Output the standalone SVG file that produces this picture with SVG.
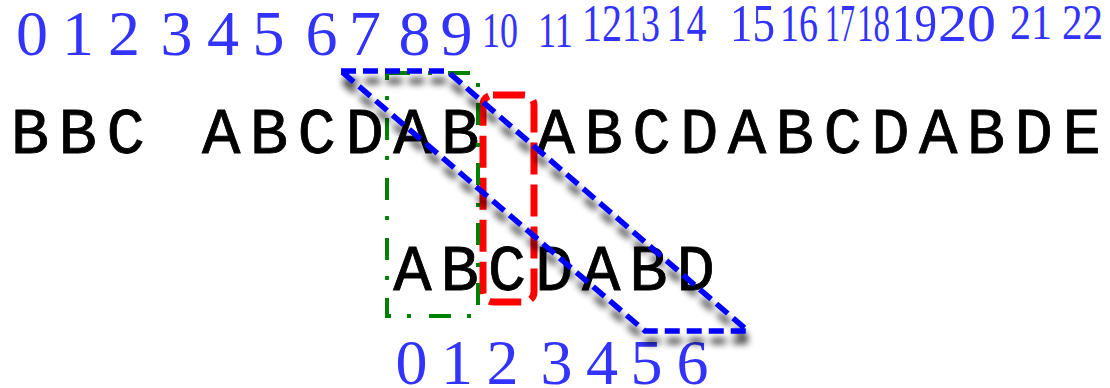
<svg xmlns="http://www.w3.org/2000/svg" width="1110" height="388" viewBox="0 0 1110 388">
<style>
.num{font-family:"Liberation Serif","Times New Roman",serif;fill:#3333ff;text-anchor:middle}
.str{font-family:"Liberation Mono","Courier New",monospace;fill:#000;stroke:#000;stroke-width:0.8;text-anchor:middle;font-size:64px}
.blue{fill:none;stroke:#0000ff;stroke-width:5.5;stroke-dasharray:15 7}
.green{fill:none;stroke:#008000;stroke-width:4;stroke-dasharray:22 16 4 18}
.red{fill:none;stroke:#ff0000;stroke-width:7;stroke-dasharray:32 10}
</style>
<defs>
<filter id="shadow" x="-20%" y="-20%" width="140%" height="140%">
<feGaussianBlur in="SourceAlpha" stdDeviation="3.5"/>
<feOffset dx="2" dy="10" result="b"/>
<feComponentTransfer><feFuncA type="linear" slope="0.8"/></feComponentTransfer>
<feMerge><feMergeNode/><feMergeNode in="SourceGraphic"/></feMerge>
</filter>
</defs>
<rect width="1110" height="388" fill="#fff"/>
<g id="top-indices">
<text class="num" font-size="64" x="32 78 124 176.5 223 268.5 321.5 365 414.5 456.5" y="55">0123456789</text>
<text class="num" font-size="50" x="500" y="47" textLength="36" lengthAdjust="spacingAndGlyphs">10</text>
<text class="num" font-size="50" x="555.5" y="47" textLength="35" lengthAdjust="spacingAndGlyphs">11</text>
<text class="num" font-size="52" x="602" y="41" textLength="40" lengthAdjust="spacingAndGlyphs">12</text>
<text class="num" font-size="52" x="641" y="41" textLength="38" lengthAdjust="spacingAndGlyphs">13</text>
<text class="num" font-size="52" x="686.5" y="41" textLength="40" lengthAdjust="spacingAndGlyphs">14</text>
<text class="num" font-size="52" x="752.5" y="41" textLength="45" lengthAdjust="spacingAndGlyphs">15</text>
<text class="num" font-size="52" x="799" y="41" textLength="38" lengthAdjust="spacingAndGlyphs">16</text>
<text class="num" font-size="52" x="840" y="41" textLength="30" lengthAdjust="spacingAndGlyphs">17</text>
<text class="num" font-size="52" x="873.5" y="41" textLength="33" lengthAdjust="spacingAndGlyphs">18</text>
<text class="num" font-size="52" x="914.5" y="41" textLength="45" lengthAdjust="spacingAndGlyphs">19</text>
<text class="num" font-size="52" x="967" y="41" textLength="58" lengthAdjust="spacingAndGlyphs">20</text>
<text class="num" font-size="50" x="1031" y="39" textLength="42" lengthAdjust="spacingAndGlyphs">21</text>
<text class="num" font-size="50" x="1082.5" y="39" textLength="41" lengthAdjust="spacingAndGlyphs">22</text>
</g>
<g id="text-string">
<text class="str" x="30 77.8 125.6 221.2 269 316.8 364.6 412.4 460.2 555.8 603.6 651.4 699.2 747 794.8 842.6 890.4 938.2 986 1033.8 1081.6" y="153">BBCABCDABABCDABCDABDE</text>
</g>
<g id="pattern-string">
<text class="str" x="412.5 459.7 506.9 554.1 601.3 648.5 695.7" y="290">ABCDABD</text>
</g>
<g id="bottom-indices">
<text class="num" font-size="64" x="411.5 457 502.5 556.5 602 646.5 692.5" y="384">0123456</text>
</g>
<g id="connectors">
<rect id="red-box" class="red" x="483" y="95" width="51" height="207" rx="10"/>
<path id="green-box" class="green" stroke-dashoffset="15" d="M387,73 V316 H478 V73 Z"/>
<path id="blue-shift" class="blue" filter="url(#shadow)" d="M341,71 L447,71 L748,331 L645,331 Z"/>
</g>
</svg>
